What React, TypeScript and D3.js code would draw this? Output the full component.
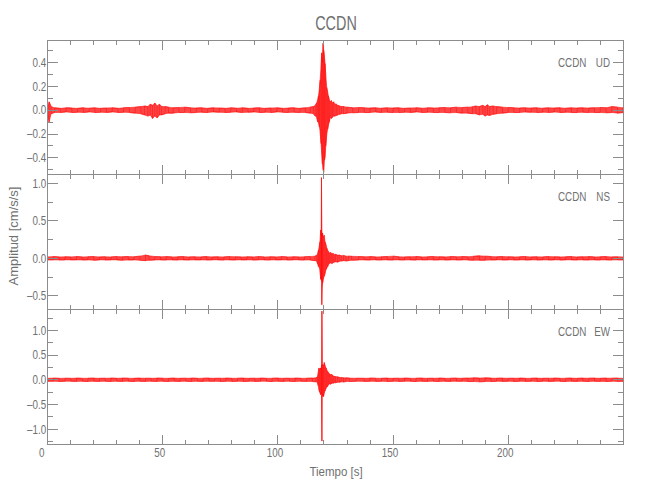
import React from "react";
import * as d3 from "d3";

// ---- data: [time s, envelope max, envelope min] ----
const timeDomain = [0, 250];
const timeTicksMajor = [0, 50, 100, 150, 200, 250];
const timeTickLabels = ["0", "50", "100", "150", "200"];

const udEnvelope: [number, number, number][] = [
  [0, 0.03, -0.04], [0.6, 0.07, -0.1], [1.5, 0.03, -0.03], [3, 0.02, -0.02], [5.5, 0.015, -0.02],
  [8, 0.02, -0.015], [10.5, 0.018, -0.02], [13, 0.015, -0.018], [15.5, 0.02, -0.02], [18, 0.016, -0.015],
  [20.5, 0.02, -0.02], [23, 0.015, -0.018], [25.5, 0.018, -0.02], [28, 0.02, -0.015], [30.5, 0.015, -0.02],
  [33, 0.02, -0.018], [35.5, 0.022, -0.02], [38, 0.025, -0.025], [40.5, 0.03, -0.03], [42, 0.035, -0.04],
  [43.5, 0.03, -0.05], [44.5, 0.05, -0.04], [45.5, 0.04, -0.07], [46.5, 0.06, -0.05], [47.5, 0.035, -0.065],
  [48.5, 0.05, -0.04], [49.5, 0.03, -0.04], [51, 0.03, -0.03], [52.5, 0.025, -0.025], [54.5, 0.02, -0.025],
  [57, 0.022, -0.02], [59.5, 0.025, -0.02], [62, 0.02, -0.022],
  [64.5, 0.018, -0.02], [67, 0.02, -0.018], [69.5, 0.015, -0.02], [72, 0.02, -0.015], [74.5, 0.018, -0.018],
  [77, 0.015, -0.02], [79.5, 0.02, -0.018], [82, 0.016, -0.015], [84.5, 0.02, -0.02], [87, 0.015, -0.018],
  [89.5, 0.018, -0.015], [92, 0.02, -0.02], [94.5, 0.015, -0.018], [97, 0.018, -0.02], [99.5, 0.02, -0.015],
  [102, 0.015, -0.018], [104.5, 0.018, -0.02], [107, 0.02, -0.018], [109.5, 0.015, -0.02], [112, 0.02, -0.02],
  [114, 0.025, -0.025], [115.4, 0.03, -0.03], [116.2, 0.04, -0.05], [116.8, 0.06, -0.06], [117.3, 0.09, -0.1],
  [117.6, 0.12, -0.1], [118, 0.18, -0.14], [118.3, 0.25, -0.17], [118.7, 0.35, -0.28], [119, 0.48, -0.36],
  [119.3, 0.4, -0.45], [119.6, 0.56, -0.5], [119.9, 0.5, -0.52], [120.2, 0.45, -0.42], [120.5, 0.39, -0.39],
  [120.8, 0.28, -0.3], [121.2, 0.19, -0.2], [121.6, 0.15, -0.16], [121.9, 0.12, -0.13], [122.3, 0.09, -0.1],
  [122.7, 0.07, -0.06], [123.2, 0.08, -0.07], [123.7, 0.06, -0.06], [124.2, 0.07, -0.05], [124.8, 0.05, -0.05],
  [125.4, 0.05, -0.045], [126, 0.04, -0.04], [126.8, 0.035, -0.035], [127.6, 0.03, -0.03], [128.5, 0.03, -0.03],
  [130, 0.025, -0.025], [132.5, 0.02, -0.022], [135, 0.022, -0.02], [137.5, 0.02, -0.02], [140, 0.018, -0.02],
  [142.5, 0.02, -0.016], [145, 0.016, -0.02], [147.5, 0.02, -0.018], [150, 0.018, -0.02], [152.5, 0.02, -0.02],
  [155, 0.015, -0.018], [157.5, 0.018, -0.02], [160, 0.02, -0.015], [162.5, 0.016, -0.02], [165, 0.02, -0.018],
  [167.5, 0.018, -0.02], [170, 0.02, -0.02], [172.5, 0.022, -0.02], [175, 0.02, -0.022], [177.5, 0.025, -0.02],
  [180, 0.022, -0.025], [182.5, 0.025, -0.025], [184.5, 0.028, -0.03], [186, 0.035, -0.03], [187.5, 0.03, -0.04],
  [189, 0.04, -0.035], [190, 0.03, -0.05], [191, 0.045, -0.04], [192, 0.03, -0.045], [193.5, 0.035, -0.035],
  [195, 0.03, -0.03], [197.5, 0.025, -0.025], [200, 0.022, -0.02],
  [202.5, 0.02, -0.02], [205, 0.018, -0.02], [207.5, 0.02, -0.016], [210, 0.018, -0.018], [212.5, 0.02, -0.02],
  [215, 0.016, -0.018], [217.5, 0.02, -0.02], [220, 0.018, -0.016], [222.5, 0.02, -0.02], [225, 0.016, -0.018],
  [227.5, 0.02, -0.02], [230, 0.018, -0.02], [232.5, 0.02, -0.018], [235, 0.018, -0.02], [237.5, 0.02, -0.02],
  [240, 0.022, -0.02], [242.5, 0.02, -0.022], [245, 0.03, -0.02], [247.5, 0.025, -0.025], [250, 0.02, -0.02],
];

const nsEnvelope: [number, number, number][] = [
  [0, 0.02, -0.02], [2.5, 0.025, -0.02], [5, 0.02, -0.022], [7.5, 0.022, -0.02], [10, 0.02, -0.02],
  [12.5, 0.025, -0.02], [15, 0.02, -0.022], [17.5, 0.022, -0.02], [20, 0.025, -0.025], [22.5, 0.02, -0.02],
  [25, 0.022, -0.022], [27.5, 0.02, -0.02], [30, 0.025, -0.02], [32.5, 0.022, -0.025], [35, 0.025, -0.022],
  [37.5, 0.022, -0.02], [40, 0.03, -0.025], [42.5, 0.045, -0.03], [44, 0.035, -0.025], [46.5, 0.025, -0.022],
  [49, 0.022, -0.02], [51.5, 0.025, -0.022], [54, 0.02, -0.02], [56.5, 0.022, -0.022], [59, 0.025, -0.02],
  [61.5, 0.02, -0.022], [64, 0.022, -0.02], [66.5, 0.02, -0.02], [69, 0.025, -0.022], [71.5, 0.02, -0.02],
  [74, 0.022, -0.02], [76.5, 0.02, -0.022], [79, 0.025, -0.02], [81.5, 0.022, -0.022], [84, 0.02, -0.02],
  [86.5, 0.022, -0.02], [89, 0.02, -0.022], [91.5, 0.025, -0.02], [94, 0.02, -0.02], [96.5, 0.022, -0.022],
  [99, 0.02, -0.02], [101.5, 0.025, -0.02], [104, 0.02, -0.022], [106.5, 0.022, -0.02], [109, 0.02, -0.02],
  [111.5, 0.022, -0.022], [114, 0.025, -0.022], [116, 0.03, -0.03], [116.8, 0.04, -0.035], [117.3, 0.07, -0.08],
  [117.6, 0.11, -0.11], [117.9, 0.15, -0.12], [118.2, 0.22, -0.15], [118.6, 0.38, -0.28], [118.75, 0.3, -0.25],
  [118.9, 1.08, -0.3], [119.05, 0.35, -0.62], [119.2, 0.3, -0.4], [119.4, 0.34, -0.33], [119.7, 0.28, -0.28],
  [120.1, 0.31, -0.24], [120.5, 0.22, -0.2], [120.9, 0.18, -0.15], [121.2, 0.14, -0.13], [121.6, 0.11, -0.11],
  [122, 0.09, -0.08], [122.4, 0.07, -0.07], [122.9, 0.08, -0.06], [123.4, 0.06, -0.07], [123.9, 0.07, -0.06],
  [124.4, 0.05, -0.05], [125, 0.055, -0.045], [125.8, 0.045, -0.05], [126.6, 0.045, -0.04], [127.5, 0.035, -0.035],
  [128.5, 0.04, -0.03], [129.5, 0.03, -0.035], [130.6, 0.03, -0.03], [132, 0.028, -0.025], [135, 0.025, -0.022],
  [137.5, 0.022, -0.02],
  [140, 0.025, -0.022], [142.5, 0.02, -0.02], [145, 0.022, -0.022], [147.5, 0.025, -0.02], [150, 0.03, -0.022],
  [152.5, 0.022, -0.02], [155, 0.02, -0.022], [157.5, 0.022, -0.02], [160, 0.025, -0.022], [162.5, 0.02, -0.02],
  [165, 0.022, -0.02], [167.5, 0.025, -0.022], [170, 0.022, -0.02], [172.5, 0.02, -0.022], [175, 0.025, -0.02],
  [177.5, 0.022, -0.022], [180, 0.025, -0.02], [182.5, 0.022, -0.022], [185, 0.028, -0.025], [187.5, 0.035, -0.025],
  [190, 0.03, -0.025], [192.5, 0.025, -0.022], [195, 0.022, -0.02], [197.5, 0.025, -0.022], [200, 0.022, -0.02],
  [202.5, 0.02, -0.022], [205, 0.022, -0.02], [207.5, 0.025, -0.022], [210, 0.02, -0.02], [212.5, 0.022, -0.022],
  [215, 0.02, -0.02], [217.5, 0.025, -0.022], [220, 0.022, -0.02], [222.5, 0.02, -0.022], [225, 0.022, -0.02],
  [227.5, 0.025, -0.02], [230, 0.02, -0.022], [232.5, 0.022, -0.02], [235, 0.025, -0.022], [237.5, 0.02, -0.02],
  [240, 0.022, -0.022], [242.5, 0.025, -0.02], [245, 0.02, -0.022], [247.5, 0.022, -0.02], [250, 0.02, -0.02],
];

const ewEnvelope: [number, number, number][] = [
  [0, 0.03, -0.03], [2.5, 0.035, -0.03], [5, 0.03, -0.035], [7.5, 0.032, -0.03], [10, 0.03, -0.03],
  [12.5, 0.035, -0.032], [15, 0.03, -0.03], [17.5, 0.032, -0.035], [20, 0.035, -0.03], [22.5, 0.03, -0.032],
  [25, 0.032, -0.03], [27.5, 0.035, -0.035], [30, 0.03, -0.03], [32.5, 0.035, -0.032], [35, 0.032, -0.03],
  [37.5, 0.03, -0.035], [40, 0.035, -0.03], [42.5, 0.032, -0.032], [45, 0.03, -0.03], [47.5, 0.035, -0.032],
  [50, 0.032, -0.03], [52.5, 0.03, -0.035], [55, 0.035, -0.03], [57.5, 0.03, -0.032], [60, 0.032, -0.03],
  [62.5, 0.035, -0.035], [65, 0.03, -0.03], [67.5, 0.032, -0.032], [70, 0.035, -0.03], [72.5, 0.03, -0.03],
  [75, 0.032, -0.035], [77.5, 0.035, -0.03], [80, 0.03, -0.032], [82.5, 0.032, -0.03], [85, 0.035, -0.035],
  [87.5, 0.03, -0.03], [90, 0.032, -0.032], [92.5, 0.035, -0.03], [95, 0.03, -0.03], [97.5, 0.032, -0.035],
  [100, 0.035, -0.03], [102.5, 0.03, -0.032], [105, 0.032, -0.03], [107.5, 0.035, -0.035], [110, 0.03, -0.03],
  [112.5, 0.032, -0.032], [115, 0.035, -0.035], [116.5, 0.04, -0.04], [117.1, 0.06, -0.05], [117.5, 0.15, -0.12],
  [117.8, 0.24, -0.2], [118.1, 0.2, -0.25], [118.5, 0.24, -0.3], [118.8, 0.22, -0.26], [118.95, 0.3, -0.3],
  [119.1, 1.39, -1.24], [119.25, 0.3, -0.34], [119.5, 0.31, -0.3], [119.8, 0.28, -0.34], [120.1, 0.35, -0.27],
  [120.5, 0.28, -0.22], [120.9, 0.24, -0.17], [121.2, 0.2, -0.15], [121.6, 0.17, -0.13], [122, 0.14, -0.1],
  [122.4, 0.125, -0.08], [122.9, 0.1, -0.09], [123.4, 0.11, -0.07], [123.9, 0.08, -0.07], [124.4, 0.07, -0.06],
  [125, 0.065, -0.06], [125.8, 0.06, -0.05], [126.6, 0.05, -0.05], [127.5, 0.045, -0.04], [128.5, 0.04, -0.045],
  [129.5, 0.04, -0.035], [131, 0.035, -0.035], [134, 0.032, -0.03],
  [137.5, 0.03, -0.032], [140, 0.035, -0.03], [142.5, 0.032, -0.032], [145, 0.03, -0.03], [147.5, 0.035, -0.035],
  [150, 0.03, -0.03], [152.5, 0.032, -0.032], [155, 0.035, -0.03], [157.5, 0.03, -0.03], [160, 0.032, -0.035],
  [162.5, 0.035, -0.03], [165, 0.03, -0.032], [167.5, 0.032, -0.03], [170, 0.035, -0.035], [172.5, 0.03, -0.03],
  [175, 0.032, -0.032], [177.5, 0.035, -0.03], [180, 0.03, -0.03], [182.5, 0.035, -0.035], [185, 0.04, -0.035],
  [187.5, 0.035, -0.04], [190, 0.04, -0.035], [192.5, 0.035, -0.035], [195, 0.032, -0.03], [197.5, 0.035, -0.032],
  [200, 0.03, -0.03], [202.5, 0.032, -0.035], [205, 0.035, -0.03], [207.5, 0.03, -0.032], [210, 0.032, -0.03],
  [212.5, 0.035, -0.035], [215, 0.03, -0.03], [217.5, 0.032, -0.032], [220, 0.035, -0.03], [222.5, 0.03, -0.03],
  [225, 0.032, -0.035], [227.5, 0.035, -0.03], [230, 0.03, -0.032], [232.5, 0.035, -0.03], [235, 0.032, -0.035],
  [237.5, 0.035, -0.03], [240, 0.03, -0.032], [242.5, 0.035, -0.035], [245, 0.032, -0.03], [247.5, 0.035, -0.032],
  [250, 0.03, -0.03],
];

const panelNames = ["UD", "NS", "EW"];
const stationName = "CCDN";
const titleText = "CCDN";
const xAxisTitle = "Tiempo [s]";
const yAxisTitle = "Amplitud [cm/s/s]";
const panelDomains: [number, number][] = [[-0.543, 0.585], [-0.685, 1.115], [-1.305, 1.42]];
const panelMajorTicks = [
  [-0.4, -0.2, 0.0, 0.2, 0.4],
  [-0.5, 0.0, 0.5, 1.0],
  [-1.0, -0.5, 0.0, 0.5, 1.0],
];
const panelMinorSteps = [0.1, 0.25, 0.25];
const envelopes = [udEnvelope, nsEnvelope, ewEnvelope];

const W = 650;
const H = 500;
const left = 47.7;
const right = 623.3;
const top = 40.3;
const bottom = 444.3;
const axisColor = "#8c8c8c";
const textColor = "#707070";
const font = "'Liberation Sans', Arial, sans-serif";

function fmt(v: number) {
  const s = Math.abs(v).toFixed(1);
  return v < -1e-9 ? "\u2013" + s : s;
}

function T({ x, y, anchor, size, sx, children, rotate }: any) {
  const tr = `translate(${x},${y})${rotate ? ` rotate(${rotate})` : ""} scale(${sx ?? 0.82},1)`;
  return (
    <text transform={tr} textAnchor={anchor ?? "start"} fontSize={size ?? 12}>
      {children}
    </text>
  );
}

type Row = [number, number, number];

function Panel({ index }: { index: number }) {
  const ph = (bottom - top) / 3;
  const y0 = top + index * ph;
  const y1 = y0 + ph;
  const x = d3.scaleLinear().domain(timeDomain).range([left, right]);
  const y = d3.scaleLinear().domain(panelDomains[index]).range([y1, y0]);
  const env = envelopes[index];
  const area = d3
    .area<Row>()
    .x((d) => x(d[0]))
    .y0((d) => y(d[2]))
    .y1((d) => y(d[1]));
  // waveform drawn as max -> min per envelope sample
  const zig: [number, number][] = [];
  env.forEach((d, i) => {
    if (i % 2 === 0) {
      zig.push([d[0], d[1]]);
      zig.push([d[0], d[2]]);
    } else {
      zig.push([d[0], d[2]]);
      zig.push([d[0], d[1]]);
    }
  });
  const line = d3.line<[number, number]>().x((d) => x(d[0])).y((d) => y(d[1]));

  const minorX = d3.range(0, 251, 10).filter((t) => t % 50 !== 0);
  const [dmin, dmax] = panelDomains[index];
  const step = panelMinorSteps[index];
  const minorY = d3
    .range(Math.ceil(dmin / step) * step, dmax + 1e-9, step)
    .map((v) => Math.round(v * 1000) / 1000)
    .filter((v) => !panelMajorTicks[index].some((m) => Math.abs(m - v) < 1e-6));

  const ticks: React.ReactElement[] = [];
  timeTicksMajor.forEach((t, i) => {
    ticks.push(<line key={"xb" + i} x1={x(t)} x2={x(t)} y1={y1} y2={y1 - 9.5} />);
    ticks.push(<line key={"xt" + i} x1={x(t)} x2={x(t)} y1={y0} y2={y0 + 9.5} />);
  });
  minorX.forEach((t, i) => {
    ticks.push(<line key={"mxb" + i} x1={x(t)} x2={x(t)} y1={y1} y2={y1 - 4.5} />);
    ticks.push(<line key={"mxt" + i} x1={x(t)} x2={x(t)} y1={y0} y2={y0 + 4.5} />);
  });
  panelMajorTicks[index].forEach((v, i) => {
    ticks.push(<line key={"yl" + i} x1={left} x2={left + 10} y1={y(v)} y2={y(v)} />);
    ticks.push(<line key={"yr" + i} x1={right} x2={right - 10} y1={y(v)} y2={y(v)} />);
  });
  minorY.forEach((v, i) => {
    ticks.push(<line key={"myl" + i} x1={left} x2={left + 5} y1={y(v)} y2={y(v)} />);
    ticks.push(<line key={"myr" + i} x1={right} x2={right - 5} y1={y(v)} y2={y(v)} />);
  });

  return (
    <g>
      <path d={area(env) || ""} fill="#ff0000" fillOpacity={0.72} stroke="#ff0000" strokeOpacity={0.8} strokeWidth={0.6} />
      <path d={line(zig) || ""} fill="none" stroke="#ff0000" strokeWidth={0.6} strokeOpacity={0.7} />
      <g stroke={axisColor} strokeWidth={1} shapeRendering="crispEdges">
        <rect x={left} y={y0} width={right - left} height={ph} fill="none" />
        {ticks}
      </g>
      <g fill={textColor} fontFamily={font}>
        {panelMajorTicks[index].map((v, i) => (
          <T key={i} x={left - 1.5} y={y(v) + 4.3} anchor="end">
            {fmt(v)}
          </T>
        ))}
        <T x={558} y={y0 + 26.4}>{stationName}</T>
        <T x={610} y={y0 + 26.4} anchor="end">{panelNames[index]}</T>
      </g>
    </g>
  );
}

export default function App() {
  const x = d3.scaleLinear().domain(timeDomain).range([left, right]);
  return (
    <svg width={W} height={H} style={{ position: "absolute", left: 0, top: 0, background: "#fff" }}>
      <rect width={W} height={H} fill="#fff" />
      <g fill={textColor} fontFamily={font}>
        <T x={336} y={30} anchor="middle" size={20} sx={0.72}>{titleText}</T>
        {[0, 1, 2].map((i) => (
          <Panel key={i} index={i} />
        ))}
        {timeTickLabels.map((l, i) => (
          <T key={i} x={x(+l) - (i === 0 ? 6 : 3)} y={457} anchor="middle">
            {l}
          </T>
        ))}
        <T x={336} y={476} anchor="middle" size={12.5} sx={0.92}>{xAxisTitle}</T>
        <T x={18} y={236} anchor="middle" size={13} sx={1.0} rotate={-90}>{yAxisTitle}</T>
      </g>
    </svg>
  );
}
